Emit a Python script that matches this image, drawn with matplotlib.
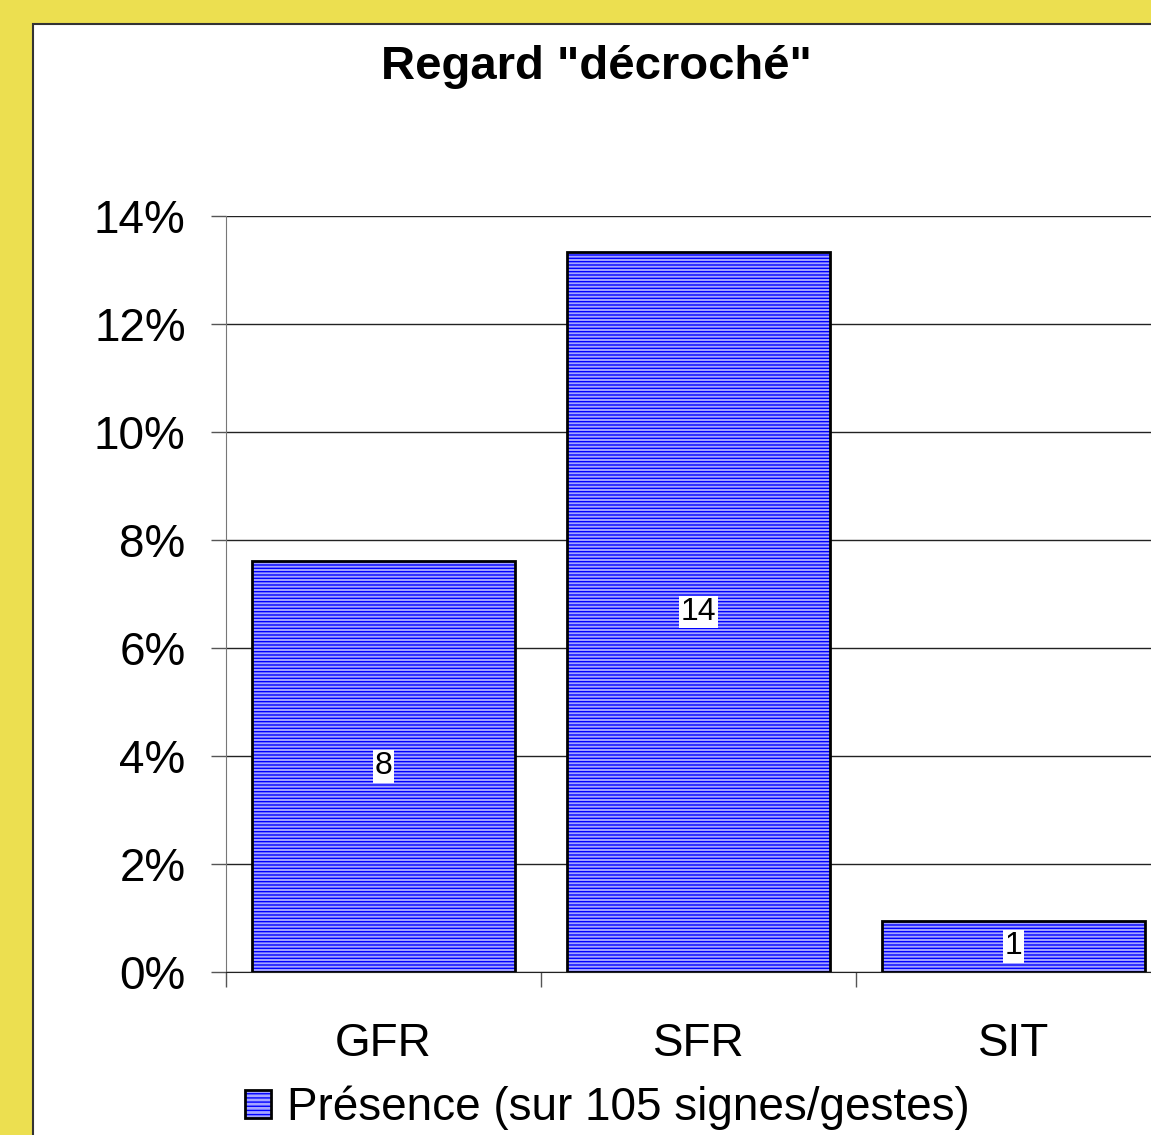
import matplotlib.pyplot as plt
from matplotlib.patches import Rectangle
from matplotlib.legend_handler import HandlerTuple

# Data
categories = ["GFR", "SFR", "SIT"]
counts = [8, 14, 1]
total = 105
values = [c / total * 100 for c in counts]
yticks = [0, 2, 4, 6, 8, 10, 12, 14]
legend_label = "Présence (sur 105 signes/gestes)"
title = 'Regard "décroché"'

plt.rcParams["font.family"] = ["Liberation Sans", "DejaVu Sans"]
plt.rcParams["hatch.linewidth"] = 1.0

W, H = 1151, 1135
fig = plt.figure(figsize=(W / 100, H / 100), dpi=100)
fig.patch.set_facecolor("#ecdf50")

# white panel with dark border
panel = Rectangle((33 / W, -0.01), 1.0, (H - 24) / H + 0.01, transform=fig.transFigure,
                  facecolor="white", edgecolor="#333333", linewidth=1.5, zorder=-10)
fig.patches.append(panel)

ax = fig.add_axes([226 / W, 163 / H, 945 / W, 756 / H])
ax.set_facecolor("none")
ax.set_zorder(1)

x = range(len(categories))
ax.bar(x, values, width=0.835, color="#a4a4ff", edgecolor="#0000ff",
       hatch="-----", linewidth=0, zorder=2)
ax.bar(x, values, width=0.835, fill=False, edgecolor="black",
       linewidth=2, zorder=3)

for xi, v, c in zip(x, values, counts):
    ax.text(xi, v / 2, str(c), ha="center", va="center", fontsize=23, zorder=4,
            bbox=dict(facecolor="white", edgecolor="none", pad=1))

ax.set_xlim(-0.5, 2.5)
ax.set_ylim(0, 14)
ax.set_yticks(yticks)
ax.set_yticklabels([f"{t}%" for t in yticks])
ax.yaxis.grid(True, color="#222222", linewidth=1)
ax.set_axisbelow(True)

ax.set_xticks(list(x))
ax.set_xticklabels(categories)
ax.set_xticks([-0.5, 0.5, 1.5], minor=True)
ax.tick_params(axis="x", which="major", length=0, pad=36, labelsize=33)
ax.tick_params(axis="x", which="minor", length=11, width=1, color="#555555")
ax.tick_params(axis="y", length=11, width=1, color="#555555", pad=18, labelsize=33)

ax.spines["top"].set_visible(False)
ax.spines["right"].set_visible(False)
ax.spines["left"].set_color("#777777")
ax.spines["bottom"].set_color("#222222")

fig.text(596 / W, (H - 67) / H, title, ha="center", va="center",
         fontsize=34, fontweight="bold")

h_fill = Rectangle((0, 0), 1, 1, facecolor="#a4a4ff", edgecolor="#0000ff",
                   hatch="----", linewidth=0)
h_edge = Rectangle((0, 0), 1, 1, fill=False, edgecolor="black", linewidth=2)
fig.legend([(h_fill, h_edge)], [legend_label], loc="center",
           handler_map={tuple: HandlerTuple(ndivide=1, pad=0)},
           bbox_to_anchor=(607 / W, 27 / H), frameon=False, fontsize=33,
           handlelength=0.57, handleheight=0.57, handletextpad=0.35,
           borderpad=0, borderaxespad=0)

fig.savefig("out.png", dpi=100)
